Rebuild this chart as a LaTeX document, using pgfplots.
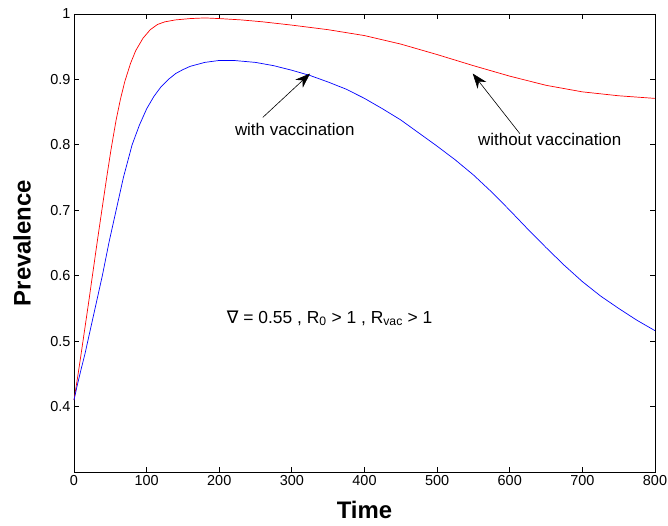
\documentclass[border=0pt]{standalone}
\usepackage{fontspec}
\setmainfont{Liberation Sans}
\newfontfamily\dejavu{DejaVu Sans}
\usepackage{pgfplots}
\pgfplotsset{compat=1.18}
\usetikzlibrary{arrows.meta}

\pgfplotstableread{
t p
0 0.41
5 0.445
10 0.482
15 0.52
20 0.558
26 0.605
32 0.652
39 0.705
45 0.75
51 0.793
58 0.838
64 0.870
70 0.897
78 0.925
85 0.944
95 0.963
105 0.976
115 0.984
125 0.988
140 0.991
160 0.993
180 0.994
200 0.993
230 0.991
260 0.988
300 0.983
350 0.976
400 0.967
450 0.954
500 0.938
550 0.921
600 0.905
650 0.891
700 0.881
750 0.875
800 0.871
}\without

\pgfplotstableread{
t p
0 0.41
5 0.435
10 0.458
15 0.48
21 0.51
30 0.555
39 0.60
48 0.65
58 0.70
68 0.75
80 0.80
90 0.83
100 0.855
110 0.874
120 0.889
130 0.900
140 0.909
150 0.915
160 0.920
180 0.926
200 0.929
220 0.929
250 0.926
275 0.921
300 0.914
325 0.906
350 0.896
375 0.885
400 0.871
425 0.855
450 0.838
475 0.818
500 0.798
525 0.777
550 0.754
575 0.728
600 0.700
625 0.671
650 0.643
675 0.616
700 0.591
725 0.569
750 0.550
775 0.532
800 0.516
}\withvac

\begin{document}
\begin{tikzpicture}
\begin{axis}[name=ax, scale only axis, width=581bp, height=458bp,
  xmin=0, xmax=800, ymin=0.3, ymax=1,
  xtick={0,100,...,800}, ytick={0.4,0.5,0.6,0.7,0.8,0.9,1},
  yticklabel style={/pgf/number format/fixed, /pgf/number format/precision=1},
  /pgf/number format/assume math mode=true,
  tick align=inside, major tick length=5bp,
  tick label style={font=\fontsize{14.5}{16}\selectfont},
  xlabel={Time}, ylabel={Prevalence},
  label style={font=\fontsize{24}{28}\selectfont\bfseries},
  xlabel style={at={(axis description cs:0.5,0)}, anchor=center, yshift=-38bp},
  ylabel style={at={(axis description cs:-0.0895,0.5)}, anchor=center},
  axis line style={line width=0.8bp},
  tick style={line width=0.8bp, black},
  clip=false]
\addplot[red, line width=0.7bp] table[x=t, y=p] {\without};
\addplot[blue, line width=0.7bp] table[x=t, y=p] {\withvac};
\draw[line width=0.6bp, -{Stealth[length=15bp,width=11bp]}] (axis cs:260,0.842) -- (axis cs:325,0.909);
\draw[line width=0.6bp, -{Stealth[length=15bp,width=11bp]}] (axis cs:614,0.817) -- (axis cs:549,0.909);
\node[font=\fontsize{17}{19}\selectfont] at (axis cs:304,0.823) {with vaccination};
\node[font=\fontsize{17}{19}\selectfont] at (axis cs:655,0.809) {without vaccination};
\node[font=\fontsize{17.5}{19}\selectfont] at (axis cs:352,0.535) {{\dejavu ∇} = 0.55 , R\textsubscript{0} > 1 , R\textsubscript{vac} > 1};
\end{axis}
\pgfresetboundingbox
\path ([shift={(-74bp,-54bp)}]ax.south west) rectangle ([shift={(13bp,14bp)}]ax.north east);
\end{tikzpicture}
\end{document}
